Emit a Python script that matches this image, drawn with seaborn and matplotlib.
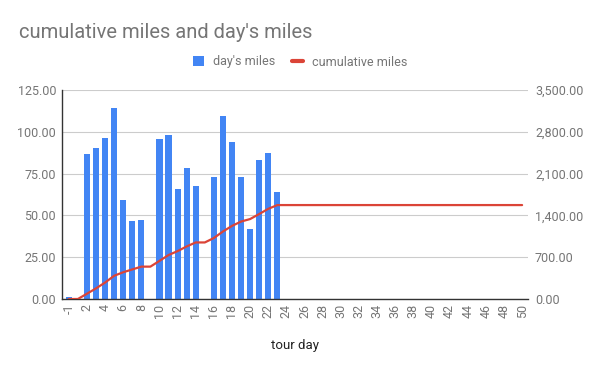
import numpy as np
import pandas as pd
import matplotlib
matplotlib.use('Agg')
import matplotlib.pyplot as plt
from matplotlib.patches import Patch
from matplotlib.lines import Line2D
import seaborn as sns

# tour days as shown on the category axis (no day 0)
days = [-1, 1, 2, 3, 4, 5, 6, 7, 8, 9, 10, 11, 12, 13, 14, 15, 16, 17, 18, 19, 20,
        21, 22, 23, 24, 25, 26, 27, 28, 29, 30, 31, 32, 33, 34, 35, 36, 37, 38, 39, 40,
        41, 42, 43, 44, 45, 46, 47, 48, 49, 50]

day_miles = [1.2, 0, 86.5, 90.5, 96.4, 114.3, 59.5, 46.4, 47.2, 0, 95.8, 98.2, 65.5,
             78.6, 67.3, 0, 73.2, 109.5, 94.0, 73.2, 41.9, 83.3, 87.1, 63.7,
             0, 0, 0, 0, 0, 0, 0, 0, 0, 0, 0, 0, 0, 0, 0, 0, 0, 0, 0, 0, 0, 0, 0, 0, 0, 0, 0]

cum_miles = [0, 0, 88, 178, 275, 389, 448, 495, 542, 542, 638, 736, 802, 880, 947, 947,
             1021, 1130, 1224, 1297, 1339, 1423, 1510, 1573,
             1573, 1573, 1573, 1573, 1573, 1573, 1573, 1573, 1573, 1573, 1573, 1573, 1573,
             1573, 1573, 1573, 1573, 1573, 1573, 1573, 1573, 1573, 1573, 1573, 1573, 1573, 1573]

left_ticks = [0, 25, 50, 75, 100, 125]
right_ticks = [0, 700, 1400, 2100, 2800, 3500]

BLUE = '#4285F4'
RED = '#DB4437'
GREY = '#757575'


def main():
    df = pd.DataFrame({'tour day': [str(d) for d in days],
                       "day's miles": day_miles,
                       'cumulative miles': cum_miles})

    sns.set_theme(style='white')
    plt.rcParams['font.family'] = ['Roboto', 'DejaVu Sans']

    fig, ax = plt.subplots(figsize=(6, 3.71), dpi=100)
    fig.subplots_adjust(left=62 / 600, right=528 / 600, top=1 - 90 / 371, bottom=1 - 299 / 371)

    sns.barplot(data=df, x='tour day', y="day's miles", order=list(df['tour day']),
                color=BLUE, saturation=1, width=0.68, linewidth=0, ax=ax)

    ax2 = ax.twinx()
    sns.lineplot(data=df, x='tour day', y='cumulative miles', sort=False,
                 color=RED, linewidth=1.6, ax=ax2, legend=False)

    ax.set_xlim(-0.75, 50.65)
    ax.set_ylim(0, 125)
    ax2.set_ylim(0, 3500)

    ax.set_xticks(range(0, len(days), 2))
    ax.set_xticklabels([str(d) for d in days[::2]], rotation=90)
    ax.set_yticks(left_ticks)
    ax.set_yticklabels([f'{v:.2f}' for v in left_ticks])
    ax2.set_yticks(right_ticks)
    ax2.set_yticklabels([f'{v:,.2f}' for v in right_ticks])

    ax.tick_params(axis='x', length=0, pad=3.5, labelsize=9, labelcolor=GREY)
    ax.tick_params(axis='y', length=0, pad=4.3, labelsize=9, labelcolor=GREY)
    ax2.tick_params(axis='y', length=0, pad=5, labelsize=9, labelcolor=GREY)

    ax.yaxis.grid(True, color='#cccccc', linewidth=0.8)
    ax.set_axisbelow(True)

    for s in ('top', 'right'):
        ax.spines[s].set_visible(False)
    for s in ax2.spines.values():
        s.set_visible(False)
    ax.spines['left'].set_color('#333333')
    ax.spines['bottom'].set_color('#333333')
    ax.spines['left'].set_linewidth(1.0)
    ax.spines['bottom'].set_linewidth(1.0)

    ax.set_ylabel('')
    ax2.set_ylabel('')
    ax2.set_xlabel('')
    ax.set_xlabel('tour day', fontsize=9.5, color='#222222')
    ax.xaxis.set_label_coords(0.5, -0.19)

    fig.text(19 / 600, 1 - 38 / 371, "cumulative miles and day's miles",
             fontsize=14.5, color=GREY, va='baseline', ha='left')

    handles = [Patch(facecolor=BLUE, edgecolor='none'),
               Line2D([], [], color=RED, linewidth=3)]
    fig.legend(handles, ["day's miles", 'cumulative miles'], loc='center',
               bbox_to_anchor=(0.5, 1 - 62 / 371),
               ncol=2, frameon=False, fontsize=9, labelcolor=GREY,
               handlelength=0.9, handleheight=0.9, handletextpad=0.7, columnspacing=1.3)

    fig.savefig('out.png', dpi=100)
    plt.close(fig)


if __name__ == '__main__':
    main()
